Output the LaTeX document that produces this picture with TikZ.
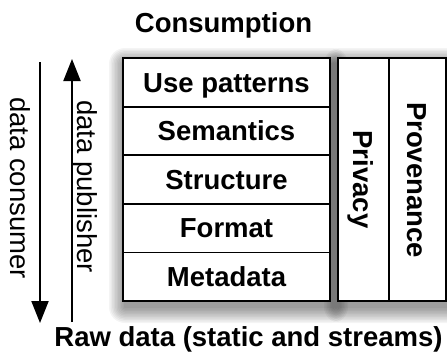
\documentclass[tikz,border=0pt]{standalone}
\usepackage{fontspec}
\setmainfont{Liberation Sans}
\usetikzlibrary{arrows.meta}
\begin{document}
\begin{tikzpicture}[x=1pt,y=-1pt,
  bigfont/.style={font=\fontsize{27.5}{30}\selectfont},
  boldfont/.style={font=\bfseries\fontsize{27.5}{30}\selectfont},
  capbox/.style={inner sep=0pt, text height=19.7pt, text depth=0pt},
  frame/.style={draw, fill=white, line width=1.8pt, inner sep=0pt},
  shadowlayer/.style={fill=black, fill opacity=0.045, draw=none},
  layer/.style={draw, line width=1.8pt, minimum width=207pt, minimum height=48.6pt, boldfont, capbox},
  sidebox/.style={draw, line width=1.8pt, inner sep=0pt, minimum height=243pt},
  flow/.style={line width=2pt, -{Triangle[length=22pt,width=17pt]}}
]
\useasboundingbox (0,0) rectangle (447,356);

% soft drop shadows
\foreach \r in {1,2.5,...,16}{
  \fill[shadowlayer, rounded corners=\r pt] (123+2-\r,58+6-\r) rectangle (330+2+\r,301+6+\r);
  \fill[shadowlayer, rounded corners=\r pt] (338+2-\r,58+6-\r) rectangle (446+2+\r,301+6+\r);
}

% titles
\node[boldfont, capbox] (cons) at (223.5,23) {Consumption};
\node[boldfont, capbox] (raw) at (248.5,337) {Raw data (static and streams)};

% main stack
\node[frame, minimum width=207pt, minimum height=243pt] (stack) at (226.5,179.5) {};
\node[layer] (use) at (226.5,82.3) {Use patterns};
\node[layer] (sem) at (226.5,130.9) {Semantics};
\node[layer] (str) at (226.5,179.5) {Structure};
\node[layer] (fmt) at (226.5,228.1) {Format};
\node[layer] (meta) at (226.5,276.7) {Metadata};

% side boxes
\node[frame, minimum width=108pt, minimum height=243pt] (side) at (392,179.5) {};
\node[sidebox, minimum width=51pt] (privbox) at (363.5,179.5) {};
\node[sidebox, minimum width=57pt] (provbox) at (417.5,179.5) {};
\node[boldfont, capbox, rotate=-90] (priv) at (363.5,179.5) {Privacy};
\node[boldfont, capbox, rotate=-90] (prov) at (417.5,180) {Provenance};

% arrows
\coordinate (c1) at (40,62);
\coordinate (c2) at (40,323);
\coordinate (p1) at (72,322);
\coordinate (p2) at (72,59);
\draw[flow] (c1) -- (c2);
\draw[flow] (p1) -- (p2);
\node[bigfont, capbox, rotate=-90] (consumer) at (20,188) {data consumer};
\node[bigfont, capbox, rotate=-90] (publisher) at (87,186.5) {data publisher};
\end{tikzpicture}
\end{document}
